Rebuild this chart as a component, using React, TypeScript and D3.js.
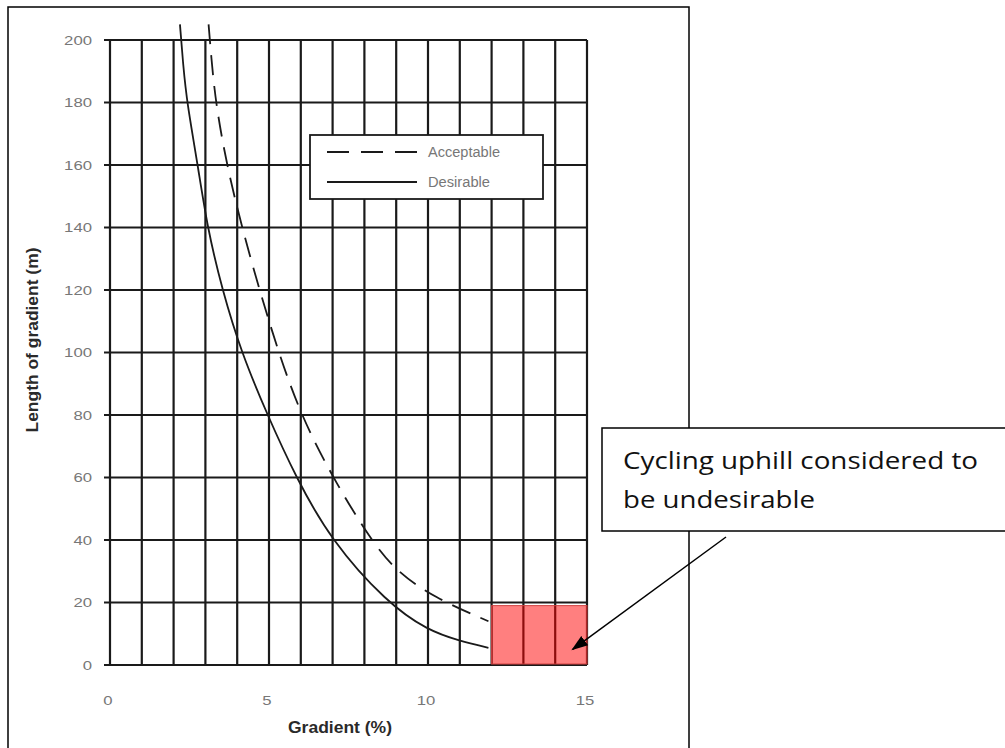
import React from "react";
import * as d3 from "d3";

const xTicks = [0, 5, 10, 15];
const yTicks = [0, 20, 40, 60, 80, 100, 120, 140, 160, 180, 200];
const xGrid = d3.range(0, 16, 1);

const desirable: [number, number][] = [
  [2.2, 205], [2.3, 192], [2.42, 180], [2.76, 160], [3.06, 140], [3.53, 120],
  [4.13, 100], [4.95, 80], [5.85, 60], [6.94, 40], [8.7, 20], [10, 11], [11, 7.7], [11.9, 5.5],
];
const acceptable: [number, number][] = [
  [3.1, 205], [3.18, 195], [3.32, 180], [3.67, 160], [4.15, 140], [4.7, 120], [5.3, 100],
  [6.0, 80], [7.0, 60], [8.2, 40], [9.0, 30], [10.2, 21.5], [11.9, 14],
];
const undesirableZone = { x0: 12, x1: 15, y0: 0, y1: 19 };
const legendItems = [
  { label: "Acceptable", dash: "22,12", len: 72 },
  { label: "Desirable", dash: "", len: 62 },
];
const annotationLines = [
  { text: "Cycling uphill considered to", len: 355 },
  { text: "be undesirable", len: 192 },
];
const annotationTarget: [number, number] = [14.55, 5];

export default function App() {
  const x = d3.scaleLinear().domain([0, 15]).range([110, 587]);
  const y = d3.scaleLinear().domain([0, 200]).range([665, 40]);
  const line = d3
    .line<[number, number]>()
    .x((d) => x(d[0]))
    .y((d) => y(d[1]))
    .curve(d3.curveBasis);

  const ink = "#1a1a1a";
  const tickColor = "#777";
  const font = "Liberation Sans, Arial, sans-serif";
  const tx = annotationTarget;
  const digitW = 9.3;
  return (
    <svg
      width={1005}
      height={748}
      style={{ position: "absolute", left: 0, top: 0, background: "#fff" }}
    >
      <defs>
        <marker id="ah" viewBox="0 0 10 10" refX="9" refY="5" markerWidth="11" markerHeight="11" orient="auto" markerUnits="strokeWidth">
          <path d="M0,1.5 L10,5 L0,8.5 z" fill="#000" />
        </marker>
      </defs>
      {/* outer frame */}
      <rect x={8} y={7} width={681} height={745} fill="none" stroke="#000" strokeWidth={1.5} />

      {/* grid */}
      {yTicks.map((t) => (
        <line key={"h" + t} x1={x(0) - 6} x2={x(15)} y1={y(t)} y2={y(t)} stroke={ink} strokeWidth={2.2} />
      ))}
      {xGrid.map((t) => (
        <line key={"v" + t} x1={x(t)} x2={x(t)} y1={y(200)} y2={y(0)} stroke={ink} strokeWidth={2.2} />
      ))}

      {/* red zone */}
      <rect
        x={x(undesirableZone.x0)}
        y={y(undesirableZone.y1)}
        width={x(undesirableZone.x1) - x(undesirableZone.x0)}
        height={y(undesirableZone.y0) - y(undesirableZone.y1) - 1}
        fill="#ff0000"
        fillOpacity={0.5}
        stroke="#d04040"
        strokeWidth={1}
      />

      {/* curves */}
      <path d={line(desirable) || ""} fill="none" stroke={ink} strokeWidth={1.8} />
      <path d={line(acceptable) || ""} fill="none" stroke={ink} strokeWidth={1.8} strokeDasharray="20,11" />

      {/* tick labels */}
      {yTicks.map((t) => (
        <text
          key={"yt" + t}
          x={92}
          y={y(t)}
          dy="0.35em"
          textAnchor="end"
          fontFamily={font}
          fontSize={13.5}
          fill={tickColor}
          textLength={String(t).length * digitW}
          lengthAdjust="spacingAndGlyphs"
        >
          {t}
        </text>
      ))}
      {xTicks.map((t) => (
        <text
          key={"xt" + t}
          x={x(t) - 2}
          y={705}
          textAnchor="middle"
          fontFamily={font}
          fontSize={13.5}
          fill={tickColor}
          textLength={String(t).length * digitW}
          lengthAdjust="spacingAndGlyphs"
        >
          {t}
        </text>
      ))}

      {/* axis titles */}
      <text x={340} y={733} textAnchor="middle" fontFamily={font} fontSize={17} fontWeight="bold" fill="#2a2a2a"
        textLength={104} lengthAdjust="spacingAndGlyphs">
        Gradient (%)
      </text>
      <text
        transform="translate(38,340) rotate(-90)"
        textAnchor="middle"
        fontFamily={font}
        fontSize={16.5}
        fontWeight="bold"
        fill="#2a2a2a"
        textLength={185}
        lengthAdjust="spacingAndGlyphs"
      >
        Length of gradient (m)
      </text>

      {/* legend */}
      <rect x={310} y={135} width={233} height={64} fill="#fff" stroke={ink} strokeWidth={1.8} />
      {legendItems.map((it, i) => (
        <g key={it.label}>
          <line x1={327} x2={417} y1={152 + i * 30} y2={152 + i * 30} stroke={ink} strokeWidth={1.8} strokeDasharray={it.dash} />
          <text x={428} y={152 + i * 30} dy="0.35em" fontFamily={font} fontSize={14} fill={tickColor}
            textLength={it.len} lengthAdjust="spacingAndGlyphs">
            {it.label}
          </text>
        </g>
      ))}

      {/* annotation */}
      <rect x={602} y={428} width={410} height={103} fill="#fff" stroke="#000" strokeWidth={1.5} />
      {annotationLines.map((l, i) => (
        <text key={i} x={623} y={469 + i * 39} fontFamily="Open Sans, Noto Sans, sans-serif" fontSize={23.5} fill="#111"
          textLength={l.len} lengthAdjust="spacingAndGlyphs">
          {l.text}
        </text>
      ))}
      <line x1={726} y1={537} x2={x(tx[0])} y2={y(tx[1])} stroke="#000" strokeWidth={1.5} markerEnd="url(#ah)" />
    </svg>
  );
}
